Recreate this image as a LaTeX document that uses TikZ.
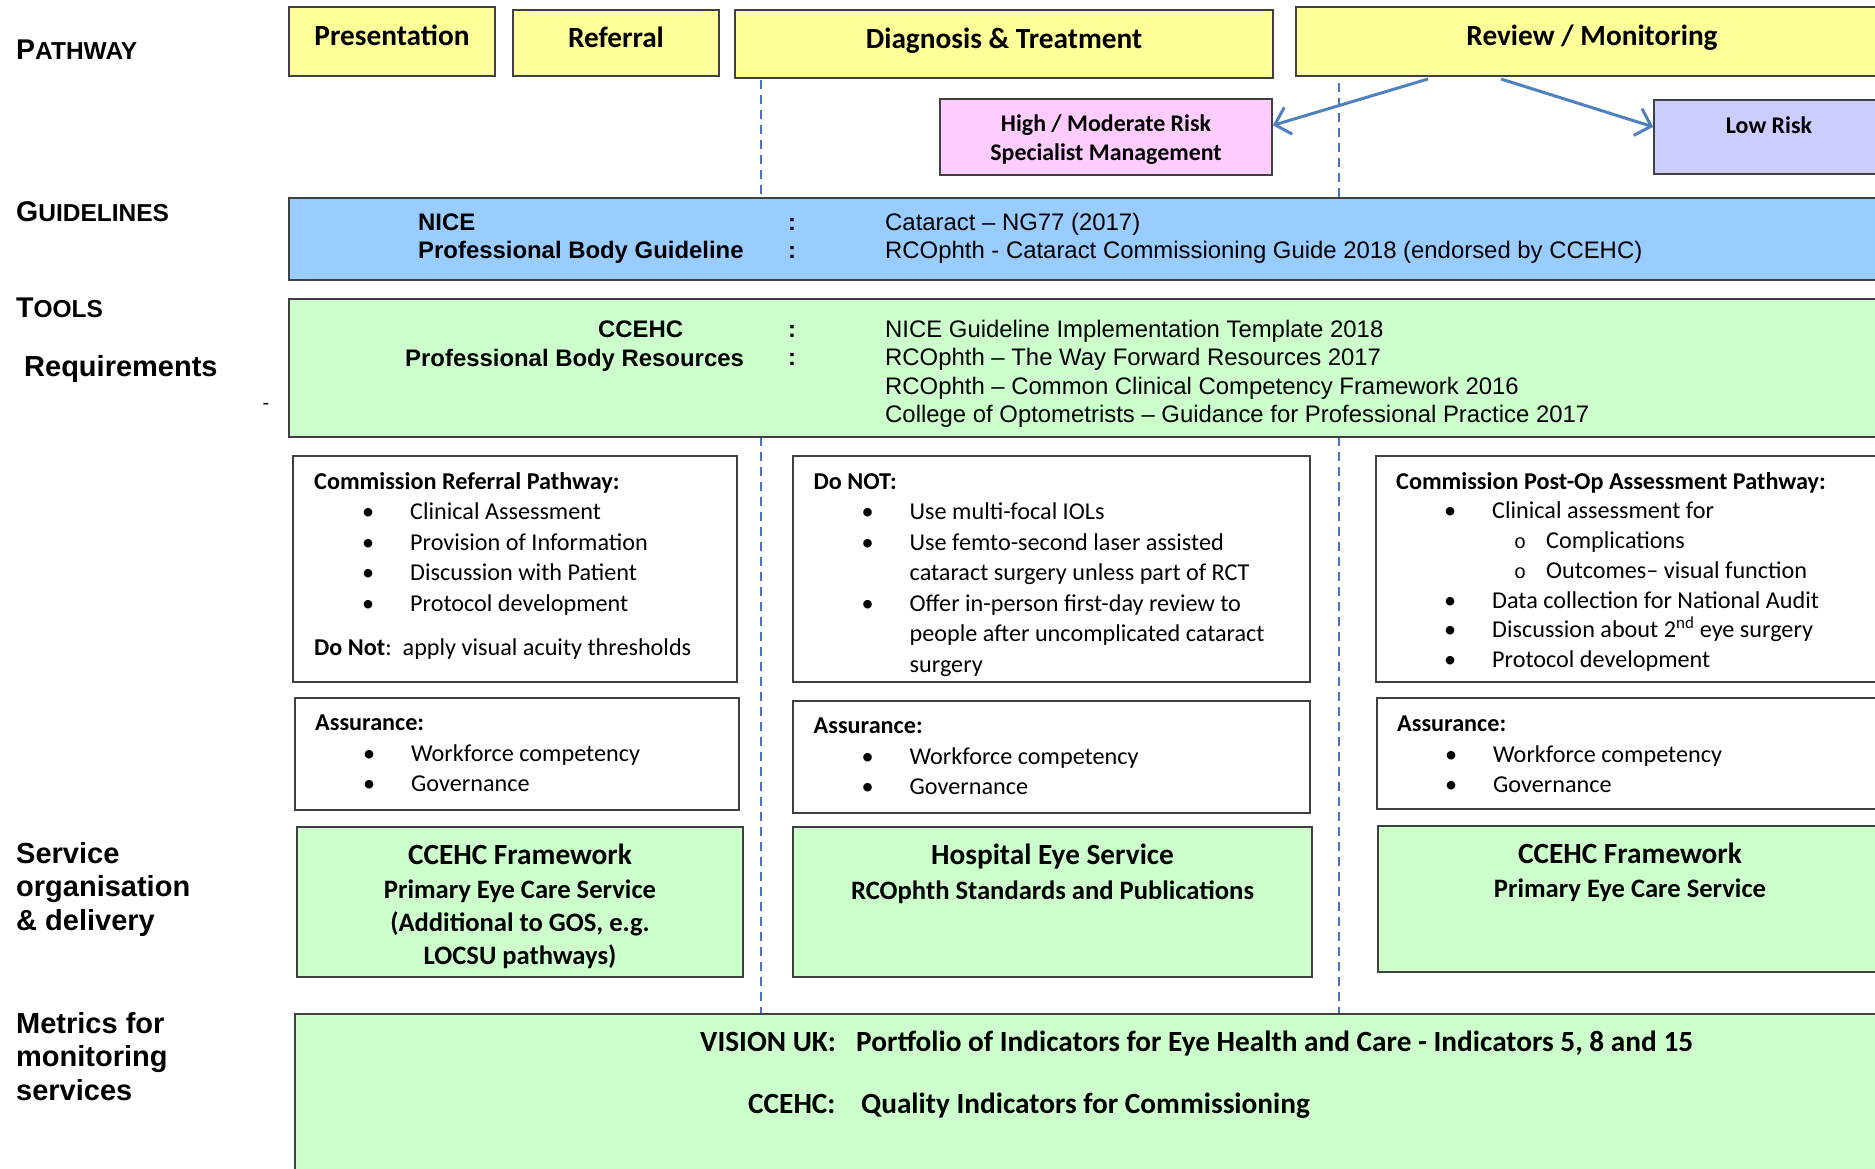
\documentclass[tikz,border=0pt]{standalone}
\usepackage{fontspec}
\setmainfont{Carlito}
\newfontfamily\arialfont{Liberation Sans}
\newfontfamily\courierfont{Liberation Mono}
\usetikzlibrary{arrows.meta}

\definecolor{headyellow}{HTML}{FFFF99}
\definecolor{riskpink}{HTML}{FFCCFF}
\definecolor{risklav}{HTML}{CCCCFF}
\definecolor{guideblue}{HTML}{99CCFF}
\definecolor{toolgreen}{HTML}{CCFFCC}
\definecolor{dashblue}{HTML}{4472C4}
\definecolor{arrowblue}{HTML}{4F81BD}

\newcommand{\bitem}[1]{\hspace*{48pt}\makebox[48pt][l]{•}#1}
\newcommand{\bmore}[1]{\hspace*{96pt}#1}
\newcommand{\subbul}[1]{\hspace*{118pt}\makebox[32pt][l]{\courierfont\fontsize{20}{24}\selectfont o}#1}
\newcommand{\smallcap}[1]{{\fontsize{24.5}{27}\selectfont #1}}

\begin{document}
\begin{tikzpicture}[x=1pt, y=-1pt, every node/.style={inner sep=0pt},
    box/.style={draw=black!75, line width=1.6pt},
    headbox/.style={box, fill=headyellow, font=\bfseries\fontsize{29.3}{35}\selectfont, text height=20pt, text depth=12pt},
    cellbox/.style={box, fill=white},
    cell/.style={anchor=north west, align=left, font=\fontsize{24.2}{30.5}\selectfont},
    bandtxt/.style={anchor=north west, align=left, font=\arialfont\fontsize{23.9}{28.5}\selectfont},
    sidehead/.style={anchor=base west, font=\arialfont\bfseries\fontsize{28.5}{33}\selectfont},
    sidetxt/.style={anchor=north west, align=left, font=\arialfont\bfseries\fontsize{29}{33.5}\selectfont},
    svhead/.style={anchor=base, font=\bfseries\fontsize{29.3}{35}\selectfont},
    svbody/.style={anchor=north, align=center, font=\bfseries\fontsize{26.6}{33}\selectfont},
    mettxt/.style={anchor=base west, font=\bfseries\fontsize{29.3}{35}\selectfont},
    divider/.style={draw=dashblue, line width=1.6pt, dash pattern=on 9pt off 6pt},
    riskarrow/.style={draw=arrowblue, line width=3pt, -{Straight Barb[length=14pt, width=28pt]}}]
    \useasboundingbox (0,0) rectangle (1875,1168);

    % column dividers (behind everything, hidden by the bands)
    \coordinate (divAtop) at (761,80);
    \coordinate (divAgap) at (761,198);
    \coordinate (divAmid) at (761,437);
    \coordinate (divAbot) at (761,1014);
    \coordinate (divBtop) at (1339,83);
    \coordinate (divBgap) at (1339,198);
    \coordinate (divBmid) at (1339,437);
    \coordinate (divBbot) at (1339,1014);
    \draw[divider] (divAtop) -- (divAgap);
    \draw[divider] (divAmid) -- (divAbot);
    \draw[divider] (divBtop) -- (divBgap);
    \draw[divider] (divBmid) -- (divBbot);

    % row labels
    \node[sidehead] (pathway) at (16,59) {P\smallcap{ATHWAY}};
    \node[sidehead] (guidelab) at (16,221) {G\smallcap{UIDELINES}};
    \node[sidehead] (toollab) at (16,317) {T\smallcap{OOLS}};
    \node[sidehead, font=\arialfont\bfseries\fontsize{29}{33.5}\selectfont] (reqlab) at (24,376) {Requirements};
    \node[anchor=base, font=\arialfont\fontsize{20}{24}\selectfont] (minus) at (266,409) {-};
    \node[sidetxt] (svclab) at (16,839.5) {\strut Service\\organisation\\\& delivery};
    \node[sidetxt] (metlab) at (16,1009.5) {\strut Metrics for\\monitoring\\services};

    % pathway
    \node[headbox, minimum width=206pt, minimum height=69pt] (pres) at (392,41.5) {Presentation};
    \node[headbox, minimum width=206pt, minimum height=66pt] (refl) at (616,43) {Referral};
    \node[headbox, minimum width=538pt, minimum height=68pt] (diag) at (1004,44) {Diagnosis \& Treatment};
    \node[headbox, minimum width=592pt, minimum height=69pt] (rev) at (1592,41.5) {Review / Monitoring};

    \node[box, fill=riskpink, minimum width=332pt, minimum height=76pt] (hmr) at (1106,137) {};
    \node[anchor=base, font=\bfseries\fontsize{23.9}{29}\selectfont] (hmrtop) at (1106,131.5) {High / Moderate Risk};
    \node[anchor=base, font=\bfseries\fontsize{23.9}{29}\selectfont] (hmrbot) at (1106,160) {Specialist Management};
    \node[box, fill=risklav, minimum width=230pt, minimum height=74pt, font=\bfseries\fontsize{23.9}{29}\selectfont, text height=16pt, text depth=24pt] (low) at (1769,137) {Low Risk};

    \coordinate (revL) at (1428,79);
    \coordinate (revR) at (1501,79);
    \draw[riskarrow] (revL) -- (hmr.4);
    \draw[riskarrow] (revR) -- (low.175);

    % guidelines and tools bands
    \node[box, fill=guideblue, minimum width=1606pt, minimum height=82pt] (gdl) at (1092,239) {};
    \node[bandtxt] (gdlkey) at (418,210) {\strut\bfseries NICE\\\bfseries Professional Body Guideline};
    \node[bandtxt] (gdlcol) at (788,210) {\strut\bfseries :\\\bfseries :};
    \node[bandtxt] (gdlref) at (885,210) {\strut Cataract – NG77 (2017)\\RCOphth - Cataract Commissioning Guide 2018 (endorsed by CCEHC)};

    \node[box, fill=toolgreen, minimum width=1606pt, minimum height=138pt] (tls) at (1092,368) {};
    \node[anchor=base west, font=\arialfont\bfseries\fontsize{23.9}{28.5}\selectfont] (tlskeyA) at (598,337) {CCEHC};
    \node[anchor=base west, font=\arialfont\bfseries\fontsize{23.9}{28.5}\selectfont] (tlskeyB) at (405,366) {Professional Body Resources};
    \node[bandtxt] (tlscol) at (788,317) {\strut\bfseries :\\\bfseries :};
    \node[bandtxt] (tlsref) at (885,317) {\strut NICE Guideline Implementation Template 2018\\RCOphth – The Way Forward Resources 2017\\RCOphth – Common Clinical Competency Framework 2016\\College of Optometrists – Guidance for Professional Practice 2017};

    % requirements
    \node[cellbox, minimum width=444pt, minimum height=226pt] (crp) at (515,569) {};
    \node[cell] (crptxt) at (314,467.6) {\strut\textbf{Commission Referral Pathway:}\\
        \bitem{Clinical Assessment}\\
        \bitem{Provision of Information}\\
        \bitem{Discussion with Patient}\\
        \bitem{Protocol development}\\[14pt]
        \textbf{Do Not}:\ \ apply visual acuity thresholds};
    \node[cellbox, minimum width=517pt, minimum height=226pt] (dnt) at (1051.5,569) {};
    \node[cell] (dnttxt) at (813.5,467.6) {\strut\textbf{Do NOT:}\\
        \bitem{Use multi-focal IOLs}\\
        \bitem{Use femto-second laser assisted}\\
        \bmore{cataract surgery unless part of RCT}\\
        \bitem{Offer in-person first-day review to}\\
        \bmore{people after uncomplicated cataract}\\
        \bmore{surgery}};
    \node[cellbox, minimum width=512pt, minimum height=226pt] (pop) at (1632,569) {};
    \node[cell, font=\fontsize{24.2}{29.7}\selectfont] (poptxt) at (1396,468.2) {\strut\textbf{Commission Post-Op Assessment Pathway:}\\
        \bitem{Clinical assessment for}\\
        \subbul{Complications}\\
        \subbul{Outcomes– visual function}\\
        \bitem{Data collection for National Audit}\\
        \bitem{Discussion about 2\textsuperscript{nd} eye surgery}\\
        \bitem{Protocol development}};

    % assurance
    \node[cellbox, minimum width=444pt, minimum height=112pt] (asl) at (517,754) {};
    \node[cell] (asltxt) at (315,709.2) {\strut\textbf{Assurance:}\\\bitem{Workforce competency}\\\bitem{Governance}};
    \node[cellbox, minimum width=517pt, minimum height=112pt] (asm) at (1051.5,757) {};
    \node[cell] (asmtxt) at (813.5,712.2) {\strut\textbf{Assurance:}\\\bitem{Workforce competency}\\\bitem{Governance}};
    \node[cellbox, minimum width=511pt, minimum height=111pt] (asr) at (1632.5,753.5) {};
    \node[cell] (asrtxt) at (1397,710.2) {\strut\textbf{Assurance:}\\\bitem{Workforce competency}\\\bitem{Governance}};

    % service organisation
    \node[box, fill=toolgreen, minimum width=446pt, minimum height=150pt] (svl) at (520,902) {};
    \node[svhead] (svlhead) at (520,864) {CCEHC Framework};
    \node[svbody] (svlbody) at (520,874.9) {\strut Primary Eye Care Service\\(Additional to GOS, e.g.\\LOCSU pathways)};
    \node[box, fill=toolgreen, minimum width=519pt, minimum height=150pt] (svm) at (1052.5,902) {};
    \node[svhead] (svmhead) at (1052.5,864) {Hospital Eye Service};
    \node[svbody] (svmbody) at (1052.5,875.9) {\strut RCOphth Standards and Publications};
    \node[box, fill=toolgreen, minimum width=510pt, minimum height=146pt] (svr) at (1633,899) {};
    \node[svhead] (svrhead) at (1630,863) {CCEHC Framework};
    \node[svbody] (svrbody) at (1630,873.9) {\strut Primary Eye Care Service};

    % metrics
    \node[box, fill=toolgreen, minimum width=1600pt, minimum height=171pt] (met) at (1095,1099.5) {};
    \node[mettxt] (vision) at (700,1051) {\makebox[156pt][l]{VISION UK:}Portfolio of Indicators for Eye Health and Care - Indicators 5, 8 and 15};
    \node[mettxt] (quality) at (748,1113) {\makebox[113pt][l]{CCEHC:}Quality Indicators for Commissioning};
\end{tikzpicture}
\end{document}
